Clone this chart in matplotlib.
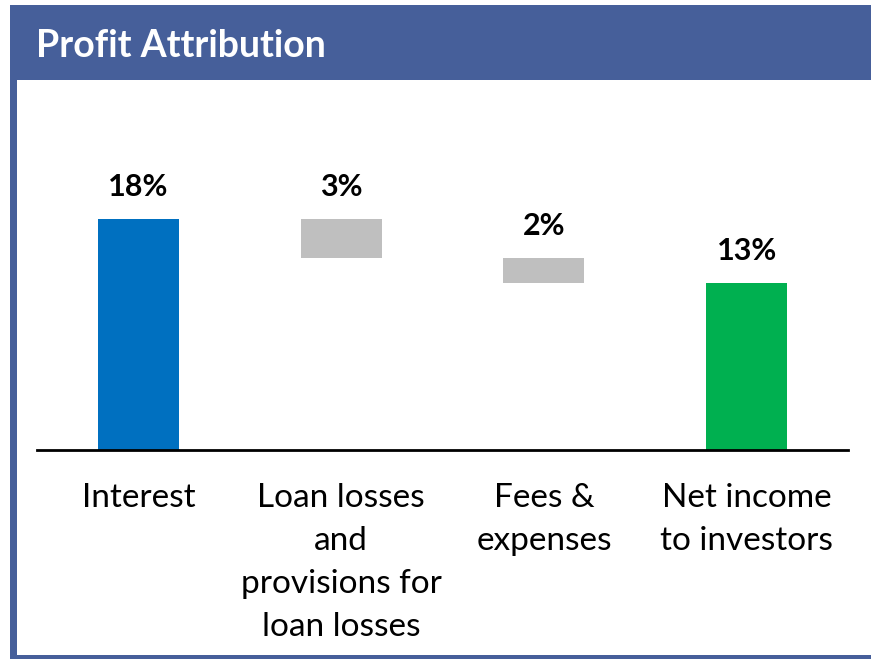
import matplotlib
matplotlib.use('Agg')
import matplotlib.pyplot as plt
from matplotlib.patches import Rectangle
import numpy as np

# 데이터
categories = ['Interest', 'Loan losses\nand\nprovisions for\nloan losses', 'Fees &\nexpenses', 'Net income\nto investors']
values = [18, -3, -2, 13]
is_total = [True, False, False, True]
colors = ['#0070C0', '#BFBFBF', '#BFBFBF', '#00B050']

plt.rcParams['font.family'] = ['Lato', 'DejaVu Sans']

W, H = 871, 659
fig = plt.figure(figsize=(W / 100, H / 100), dpi=100)
fig.patch.set_facecolor('white')

frame_color = '#465F9A'


def px_rect(x0, y0, x1, y1):
    # 픽셀 좌표(위에서부터) -> figure 좌표
    return Rectangle((x0 / W, 1 - y1 / H), (x1 - x0) / W, (y1 - y0) / H,
                     transform=fig.transFigure, facecolor=frame_color,
                     edgecolor='none', zorder=0)


fig.patches.append(px_rect(10, 5, W, 80))     # 헤더
fig.patches.append(px_rect(10, 80, 17, H))    # 왼쪽 테두리
fig.patches.append(px_rect(10, 655, W, H))    # 아래 테두리

fig.text(36 / W, 1 - 46 / H, 'Profit Attribution', color='white',
         fontsize=27, fontweight='bold', ha='left', va='center')

# 축 영역
ax_left, ax_right = 37, 848
ax_bottom, ax_top = 450, 193.4
ax = fig.add_axes([ax_left / W, 1 - ax_bottom / H,
                   (ax_right - ax_left) / W, (ax_bottom - ax_top) / H])
ax.set_facecolor('none')

# 워터폴 계산
bottoms, heights = [], []
running = 0
for v, tot in zip(values, is_total):
    if tot:
        bottoms.append(0)
        heights.append(v)
        running = v
    else:
        new = running + v
        bottoms.append(min(running, new))
        heights.append(abs(v))
        running = new

x = np.arange(len(categories))
ax.bar(x, heights, bottom=bottoms, width=0.4, color=colors, zorder=2)

for xi, b, h, v in zip(x, bottoms, heights, values):
    ax.annotate(f'{abs(v)}%', (xi, b + h), xytext=(0, 16.5), textcoords='offset points',
                ha='center', va='baseline', fontsize=22, fontweight='bold',
                annotation_clip=False)

ax.set_xlim(-0.5, 3.5)
ax.set_ylim(0, 20)
ax.set_xticks(x)
ax.set_xticklabels(categories, fontsize=24, linespacing=1.54)
ax.tick_params(axis='x', length=0, pad=24)
ax.set_yticks([])
for s in ['top', 'right', 'left']:
    ax.spines[s].set_visible(False)
ax.spines['bottom'].set_linewidth(2)
ax.spines['bottom'].set_color('black')

plt.savefig('out.png', dpi=100, facecolor='white')
